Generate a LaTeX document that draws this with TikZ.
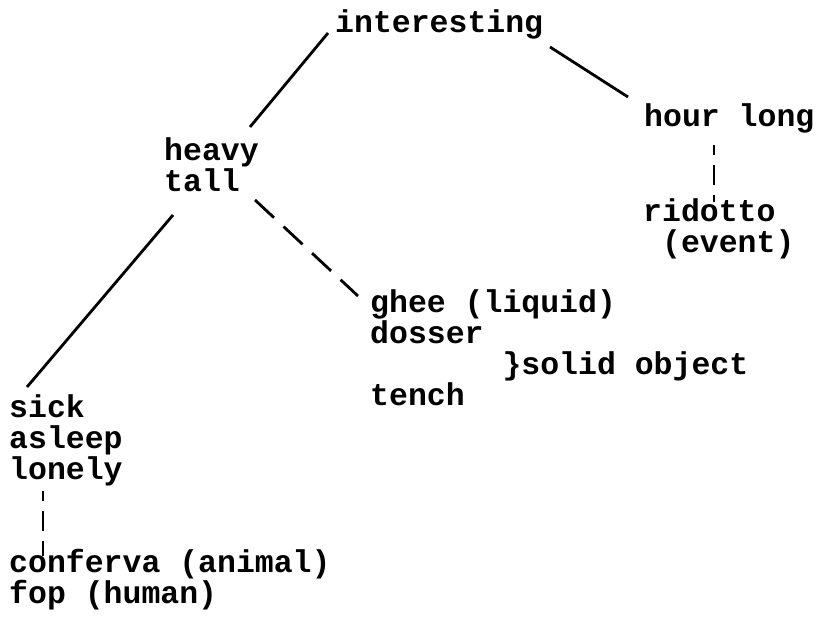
\documentclass[tikz,border=0pt]{standalone}
\usepackage{fontspec}
\setmonofont{Liberation Mono}
\usetikzlibrary{positioning}

\begin{document}
\begin{tikzpicture}[
    x=1pt, y=-1pt,
    font=\ttfamily\bfseries\fontsize{31.5}{31}\selectfont,
    word/.style={inner sep=0pt, anchor=base west, align=left},
    link/.style={line width=2.8pt},
    weak/.style={link, dash pattern=on 26pt off 13pt},
    tick/.style={link, dash pattern=on 20pt off 10pt, dash phase=10pt},
  ]
    \path[use as bounding box, fill=white] (0,0) rectangle (821,617);

    % --- word groups (placed by the baseline of their last line) ---------
    \node[word] (interesting) at (335,33)  {interesting};
    \node[word] (hour)        at (644,127) {hour long};
    \node[word] (heavy)       at (164,192) {heavy\\tall};
    \node[word] (ridotto)     at (643,253) {ridotto\\\phantom{r}(event)};
    \node[word] (ghee)        at (370,405)
      {ghee (liquid)\\dosser\\\phantom{1234567}\}solid object\\tench};
    \node[word] (sick)        at (9,479)   {sick\\asleep\\lonely};
    \node[word] (conferva)    at (9,603)   {conferva (animal)\\fop (human)};

    % --- solid links -----------------------------------------------------
    \draw[link] ([shift={(-7,0)}]interesting.base west) -- ([shift={(86,-65)}]heavy.base west);
    \draw[link] ([shift={(215,14)}]interesting.base west) -- ([shift={(-16,-30)}]hour.base west);
    \draw[link] ([shift={(9,23)}]heavy.base west) -- ([shift={(18,-92)}]sick.base west);

    % --- dashed links ----------------------------------------------------
    \draw[weak] ([shift={(91,8)}]heavy.base west) -- ([shift={(-12,-109)}]ghee.base west);
    \draw[tick] ([shift={(70,18)}]hour.base west) -- ([shift={(71,-51)}]ridotto.base west);
    \draw[tick] ([shift={(34,12)}]sick.base west) -- ([shift={(34,-47)}]conferva.base west);
\end{tikzpicture}
\end{document}
